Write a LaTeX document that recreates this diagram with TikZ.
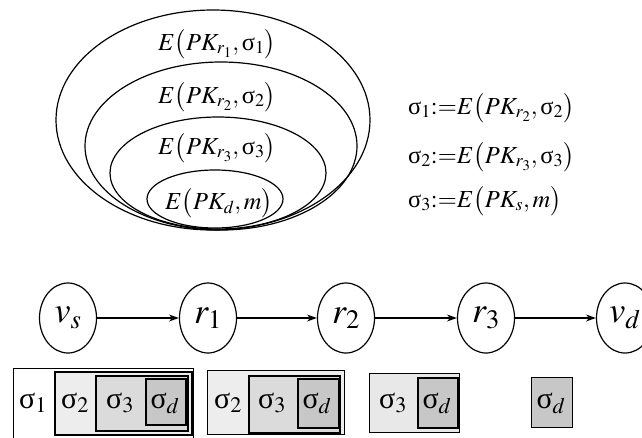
\documentclass[tikz,border=0pt]{standalone}
\usepackage{mathptmx}
\usepackage[no-math]{fontspec}
\newfontfamily\grk{Liberation Serif}
\newcommand\sg{\mbox{\grk σ}}
\usetikzlibrary{arrows.meta,shapes.geometric}
\colorlet{shadeA}{gray!14}
\colorlet{shadeB}{gray!28}
\colorlet{shadeC}{gray!44}
\begin{document}
\begin{tikzpicture}[x=1pt,y=-1pt,
  lbl/.style={inner sep=0pt, font=\fontsize{24.5}{28}\selectfont},
  vert/.style={draw, ellipse, line width=1.2pt, minimum width=57pt, minimum height=70pt, inner sep=0pt,
    font=\fontsize{36}{40}\selectfont},
  hop/.style={line width=1.5pt, -{Stealth[length=10pt,width=7pt]}},
  layer/.style={draw, line width=1.8pt, anchor=north west, inner sep=0pt},
  cell/.style={inner sep=0pt, font=\fontsize{30}{34}\selectfont}]
\useasboundingbox (0,0) rectangle (642,437);
\clip (0,0) rectangle (642,437);

% nested onion layers
\draw[line width=1.2pt] (213,120) ellipse [x radius=157pt, y radius=110pt];
\draw[line width=1.2pt] (221,146) ellipse [x radius=136pt, y radius=84pt];
\draw[line width=1.2pt] (218,173) ellipse [x radius=108pt, y radius=56pt];
\draw[line width=1.2pt] (215,199) ellipse [x radius=68pt, y radius=29pt];
\node[lbl] (e1) at (217,44) {$E\bigl(PK_{r_1},\sg_1\bigr)$};
\node[lbl] (e2) at (217,97) {$E\bigl(PK_{r_2},\sg_2\bigr)$};
\node[lbl] (e3) at (217,148) {$E\bigl(PK_{r_3},\sg_3\bigr)$};
\node[lbl] (e4) at (219,203) {$E\bigl(PK_{d},m\bigr)$};

% layer definitions
\node[lbl, anchor=west] (d1) at (408,108) {$\sg_1{:=}E\bigl(PK_{r_2},\sg_2\bigr)$};
\node[lbl, anchor=west] (d2) at (408,157) {$\sg_2{:=}E\bigl(PK_{r_3},\sg_3\bigr)$};
\node[lbl, anchor=west] (d3) at (408,201) {$\sg_3{:=}E\bigl(PK_{s},m\bigr)$};

% route
\node[vert] (vs) at (68,318) {$v_s$};
\node[vert] (r1) at (208,318) {$r_1$};
\node[vert] (r2) at (346,318) {$r_2$};
\node[vert] (r3) at (486,318) {$r_3$};
\node[vert] (vd) at (625,318) {$v_d$};
\draw[hop] (vs) -- (r1);
\draw[hop] (r1) -- (r2);
\draw[hop] (r2) -- (r3);
\draw[hop] (r3) -- (vd);

% packet at v_s
\node[layer, line width=1.2pt, fill=white, minimum width=180pt, minimum height=80pt] (a1) at (13,368) {};
\node[layer, line width=2.4pt, fill=shadeA, minimum width=137pt, minimum height=63pt] (a2) at (54,371) {};
\node[layer, fill=shadeB, minimum width=92pt, minimum height=55pt] (a3) at (95,375) {};
\node[layer, fill=shadeC, minimum width=40pt, minimum height=46pt] (a4) at (145,378) {};
\node[cell] at (33,403) {$\sg_1$};
\node[cell] at (75,403) {$\sg_2$};
\node[cell] at (120,403) {$\sg_3$};
\node[cell] at (165,403) {$\sg_d$};

% packet at r_1
\node[layer, line width=1.4pt, fill=shadeA, minimum width=137pt, minimum height=64pt] (b2) at (207,370) {};
\node[layer, fill=shadeB, minimum width=91pt, minimum height=57pt] (b3) at (248,375) {};
\node[layer, fill=shadeC, minimum width=41pt, minimum height=49pt] (b4) at (297,378) {};
\node[cell] at (228,403) {$\sg_2$};
\node[cell] at (272,403) {$\sg_3$};
\node[cell] at (317,403) {$\sg_d$};

% packet at r_2
\node[layer, line width=1.4pt, fill=shadeA!70!shadeB, minimum width=90pt, minimum height=59pt] (c3) at (369,373) {};
\node[layer, fill=shadeC, minimum width=40pt, minimum height=50pt] (c4) at (417,377) {};
\node[cell] at (393,403) {$\sg_3$};
\node[cell] at (437,403) {$\sg_d$};

% packet at r_3
\node[layer, line width=1.4pt, fill=shadeC, minimum width=41pt, minimum height=50pt] (d4) at (531,377) {};
\node[cell] at (551,403) {$\sg_d$};
\end{tikzpicture}
\end{document}
